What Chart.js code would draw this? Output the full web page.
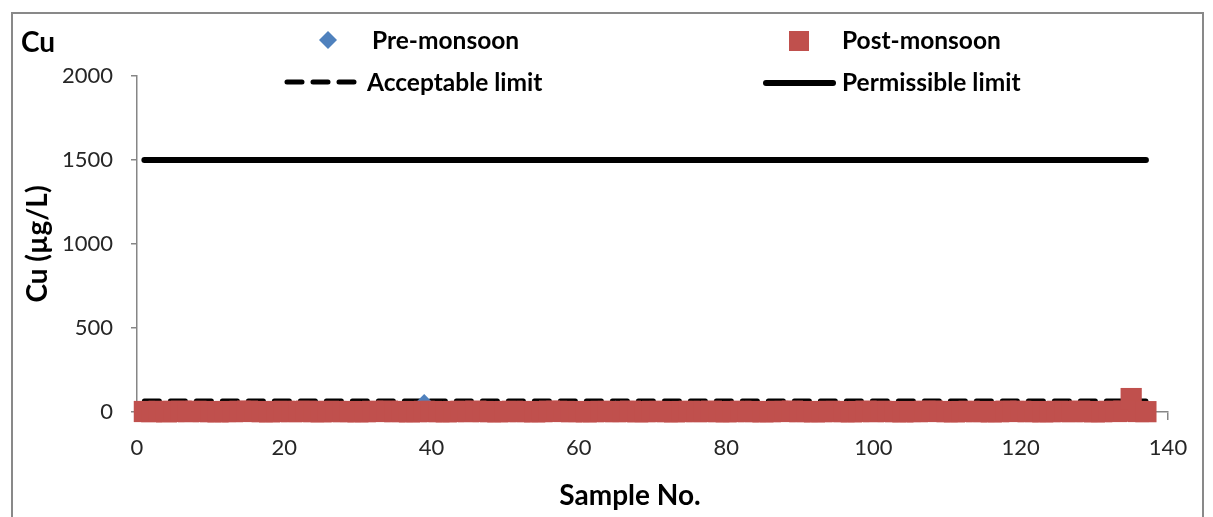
<!DOCTYPE html>
<html>
<head>
<meta charset="utf-8">
<script src="https://cdn.jsdelivr.net/npm/chart.js@4"></script>
<style>
  body { margin: 0; background: #fff; }
  canvas { display: block; }
</style>
</head>
<body>
<canvas id="myChart" width="1213" height="517"></canvas>
<script>
// sample numbers 1..137
const samples = [];
for (let i = 1; i <= 137; i++) samples.push(i);

const preMonsoon = [
  4, 12, 3, 5, 2, 6, 3, 4, 2, 5,
  3, 2, 4, 6, 3, 2, 5, 4, 3, 2,
  4, 3, 5, 2, 6, 3, 4, 2, 3, 5,
  2, 4, 3, 2, 5, 3, 4, 2, 54, 3,
  4, 2, 5, 3, 2, 4, 3, 6, 2, 3,
  5, 2, 4, 3, 2, 6, 3, 4, 2, 5,
  3, 2, 4, 5, 15, 3, 2, 4, 3, 2,
  4, 3, 2, 5, 3, 2, 4, 3, 6, 2,
  3, 5, 2, 4, 3, 2, 5, 3, 4, 2,
  3, 4, 2, 5, 3, 2, 4, 6, 3, 2,
  5, 3, 4, 2, 3, 5, 2, 4, 3, 2,
  4, 2, 3, 5, 2, 4, 3, 2, 6, 3,
  2, 4, 3, 5, 2, 3, 4, 2, 5, 3,
  2, 4, 3, 5, 6, 3, 2
];

const postMonsoon = [
  3, 2, 4, 1, 3, 5, 2, 4, 3, 2,
  1, 3, 2, 4, 5, 3, 2, 1, 3, 4,
  2, 3, 5, 2, 1, 4, 3, 2, 3, 1,
  2, 4, 3, 5, 2, 3, 1, 2, 4, 3,
  2, 1, 3, 4, 2, 5, 3, 2, 1, 3,
  4, 2, 3, 1, 2, 5, 4, 3, 2, 3,
  1, 2, 4, 3, 2, 3, 5, 1, 2, 4,
  3, 2, 1, 3, 4, 2, 3, 5, 2, 1,
  3, 4, 2, 3, 1, 2, 4, 3, 5, 2,
  3, 1, 2, 4, 3, 2, 1, 3, 5, 2,
  4, 3, 2, 1, 3, 2, 4, 5, 3, 2,
  1, 3, 4, 2, 3, 1, 2, 5, 3, 4,
  2, 3, 1, 2, 4, 3, 2, 5, 3, 1,
  2, 4, 3, 5, 80, 3, 2
];

const acceptableLimit = 65;
const permissibleLimit = 1500;
const limitRange = [1, 137];

const xTicks = [0, 20, 40, 60, 80, 100, 120, 140];
const yTicks = [0, 500, 1000, 1500, 2000];

const FONT = "Lato, 'Open Sans', sans-serif";
const axisGrey = '#868686';

const toPoints = (vals) => vals.map((v, i) => ({ x: samples[i], y: v }));
const limitLine = (v) => limitRange.map(x => ({ x: x, y: v }));

// title, legend, x title and frame are drawn by hand (Excel style 2x2 legend)
const decorations = {
  id: 'decorations',
  afterDraw(chart) {
    const c = chart.ctx;
    c.save();
    c.strokeStyle = '#898989';
    c.lineWidth = 2;
    c.strokeRect(12, 13, 1191, 520);

    c.fillStyle = '#000';
    c.textBaseline = 'middle';
    c.textAlign = 'left';
    c.font = "bold 28px " + FONT;
    c.fillText('Cu', 21, 43);

    c.font = "bold 24.5px " + FONT;
    // pre-monsoon diamond
    c.fillStyle = '#4F81BD';
    c.beginPath();
    c.moveTo(328, 31); c.lineTo(337, 40); c.lineTo(328, 49); c.lineTo(319, 40);
    c.closePath();
    c.fill();
    c.fillStyle = '#000';
    c.fillText('Pre-monsoon', 372, 41);

    // post-monsoon square
    c.fillStyle = '#C0504D';
    c.fillRect(789, 31, 20, 20);
    c.fillStyle = '#000';
    c.fillText('Post-monsoon', 842, 41);

    // acceptable dashed line
    c.strokeStyle = '#000';
    c.lineCap = 'round';
    c.lineWidth = 5;
    c.setLineDash([15, 11]);
    c.beginPath();
    c.moveTo(287, 82); c.lineTo(358, 82);
    c.stroke();
    c.setLineDash([]);
    c.fillText('Acceptable limit', 367, 83);

    // permissible solid line
    c.lineWidth = 6;
    c.beginPath();
    c.moveTo(766, 83); c.lineTo(833, 83);
    c.stroke();
    c.fillText('Permissible limit', 842, 83);

    // x axis title sits left of the axis centre in the original
    c.textAlign = 'center';
    c.font = "bold 28px " + FONT;
    c.fillText('Sample No.', 630, 496);
    c.restore();
  }
};

const data = {
  datasets: [
    {
      label: 'Pre-monsoon',
      data: toPoints(preMonsoon),
      pointStyle: 'rectRot',
      pointRadius: 9,
      backgroundColor: '#4F81BD',
      borderColor: '#4F81BD',
      borderWidth: 0,
      showLine: false,
      clip: false,
      order: 2
    },
    {
      label: 'Post-monsoon',
      data: toPoints(postMonsoon),
      pointStyle: 'rect',
      pointRadius: 15,
      backgroundColor: '#C0504D',
      borderColor: '#C0504D',
      borderWidth: 0,
      showLine: false,
      clip: false,
      order: 1
    },
    {
      label: 'Acceptable limit',
      data: limitLine(acceptableLimit),
      showLine: true,
      borderColor: '#000',
      borderWidth: 5,
      borderDash: [15, 11],
      borderCapStyle: 'round',
      pointRadius: 0,
      order: 3
    },
    {
      label: 'Permissible limit',
      data: limitLine(permissibleLimit),
      showLine: true,
      borderColor: '#000',
      borderWidth: 6,
      borderCapStyle: 'round',
      pointRadius: 0,
      order: 4
    }
  ]
};

const config = {
  type: 'scatter',
  data: data,
  options: {
    responsive: false,
    animation: false,
    layout: { padding: { top: 76, right: 45, left: 0, bottom: 0 } },
    plugins: {
      legend: { display: false },
      title: { display: false },
      tooltip: { enabled: false }
    },
    scales: {
      x: {
        type: 'linear',
        min: 0,
        max: 140,
        afterBuildTicks: (scale) => { scale.ticks = xTicks.map(v => ({ value: v })); },
        afterFit: (scale) => { scale.height = 105; },
        border: { color: axisGrey, width: 1.5 },
        grid: { drawOnChartArea: false, color: axisGrey, tickLength: 8, lineWidth: 1.5 },
        ticks: { color: '#262626', padding: 15, font: { family: FONT, size: 22 }, callback: (v) => String(v) }
      },
      y: {
        min: 0,
        max: 2000,
        afterBuildTicks: (scale) => { scale.ticks = yTicks.map(v => ({ value: v })); },
        afterFit: (scale) => { scale.width = 137; },
        border: { color: axisGrey, width: 1.5 },
        grid: { drawOnChartArea: false, color: axisGrey, tickLength: 6, lineWidth: 1.5 },
        ticks: { color: '#262626', padding: 18, font: { family: FONT, size: 22 }, callback: (v) => String(v) },
        title: {
          display: true,
          text: 'Cu (µg/L)',
          color: '#000',
          font: { family: FONT, size: 28, weight: 'bold' },
          padding: { top: 21, bottom: 0 }
        }
      }
    }
  },
  plugins: [decorations]
};

const ctx = document.getElementById('myChart').getContext('2d');
const myChart = new Chart(ctx, config);
</script>
</body>
</html>
